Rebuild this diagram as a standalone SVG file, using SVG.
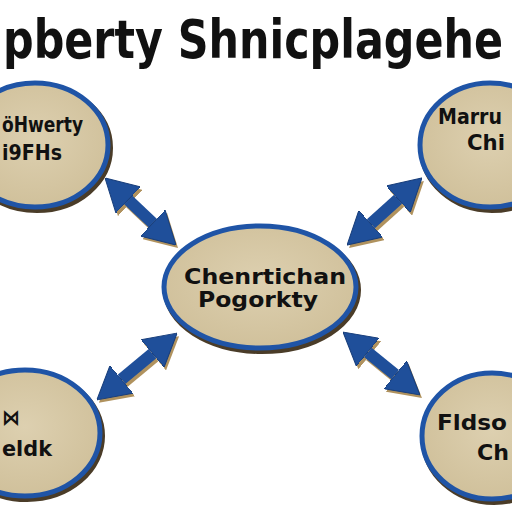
<svg xmlns="http://www.w3.org/2000/svg" width="512" height="512" viewBox="0 0 512 512">
<style>
.title{font-family:"DejaVu Sans","Liberation Sans",sans-serif;font-weight:bold;font-size:54px;fill:#111}
.lbl{font-family:"DejaVu Sans","Liberation Sans",sans-serif;font-weight:bold;font-size:22px;fill:#111}
.shade{fill:none;stroke:#4a3c28;stroke-width:6}
.oval{fill:url(#tan);stroke:#1f54a6;stroke-width:5}
.shaft{stroke:#1f4f9a;stroke-width:12;fill:none}
.shaftsh{stroke:#b0925e;stroke-width:12;fill:none}
</style>
<defs>
<radialGradient id="tan" cx="50%" cy="45%" r="60%">
<stop offset="0" stop-color="#ddd0b0"/>
<stop offset="1" stop-color="#cfbf99"/>
</radialGradient>
<marker id="ah" markerUnits="userSpaceOnUse" viewBox="0 0 32 36" refX="0" refY="18" markerWidth="32" markerHeight="36" orient="auto-start-reverse">
<path d="M0,0 L32,18 L0,36 Z" fill="#1f4f9a" stroke="#173d7a" stroke-width="1"/>
</marker>
<marker id="ahs" markerUnits="userSpaceOnUse" viewBox="0 0 32 36" refX="0" refY="18" markerWidth="32" markerHeight="36" orient="auto-start-reverse">
<path d="M0,0 L32,18 L0,36 Z" fill="#b0925e"/>
</marker>
</defs>
<rect width="512" height="512" fill="#ffffff"/>
<text class="title" x="3" y="58" textLength="500" lengthAdjust="spacingAndGlyphs">pberty Shnicplagehe</text>

<g id="connectors">
<g transform="translate(2,3)">
<line class="shaftsh" x1="128.3" y1="200" x2="152.7" y2="223" marker-start="url(#ahs)" marker-end="url(#ahs)"/>
<line class="shaftsh" x1="398.1" y1="199.3" x2="370.9" y2="223.7" marker-start="url(#ahs)" marker-end="url(#ahs)"/>
<line class="shaftsh" x1="152.5" y1="353.6" x2="121.5" y2="379.4" marker-start="url(#ahs)" marker-end="url(#ahs)"/>
<line class="shaftsh" x1="367.8" y1="352.3" x2="395.2" y2="374.7" marker-start="url(#ahs)" marker-end="url(#ahs)"/>
</g>
<line class="shaft" x1="128.3" y1="200" x2="152.7" y2="223" marker-start="url(#ah)" marker-end="url(#ah)"/>
<line class="shaft" x1="398.1" y1="199.3" x2="370.9" y2="223.7" marker-start="url(#ah)" marker-end="url(#ah)"/>
<line class="shaft" x1="152.5" y1="353.6" x2="121.5" y2="379.4" marker-start="url(#ah)" marker-end="url(#ah)"/>
<line class="shaft" x1="367.8" y1="352.3" x2="395.2" y2="374.7" marker-start="url(#ah)" marker-end="url(#ah)"/>
</g>

<g id="node-tl">
<ellipse class="shade" cx="37" cy="148" rx="73" ry="62"/>
<ellipse class="oval" cx="35" cy="145" rx="73" ry="62"/>
<text class="lbl" x="2" y="132" textLength="81" lengthAdjust="spacingAndGlyphs">öHwerty</text>
<text class="lbl" x="2" y="160" textLength="60" lengthAdjust="spacingAndGlyphs">i9FHs</text>
</g>
<g id="node-tr">
<ellipse class="shade" cx="492" cy="148" rx="70" ry="62"/>
<ellipse class="oval" cx="490" cy="145" rx="70" ry="62"/>
<text class="lbl" x="438" y="124" textLength="64" lengthAdjust="spacingAndGlyphs">Marru</text>
<text class="lbl" x="467" y="150" textLength="38" lengthAdjust="spacingAndGlyphs">Chi</text>
</g>
<g id="node-c">
<ellipse class="shade" cx="262" cy="290" rx="96" ry="61"/>
<ellipse class="oval" cx="260" cy="287" rx="96" ry="61"/>
<text class="lbl" x="184" y="284" textLength="162" lengthAdjust="spacingAndGlyphs">Chenrtichan</text>
<text class="lbl" x="198" y="307" textLength="120" lengthAdjust="spacingAndGlyphs">Pogorkty</text>
</g>
<g id="node-bl">
<ellipse class="shade" cx="27" cy="436" rx="75" ry="63"/>
<ellipse class="oval" cx="25" cy="433" rx="75" ry="63"/>
<text class="lbl" x="2" y="425" textLength="18" lengthAdjust="spacingAndGlyphs">⋈</text>
<text class="lbl" x="2" y="456" textLength="50" lengthAdjust="spacingAndGlyphs">eldk</text>
</g>
<g id="node-br">
<ellipse class="shade" cx="494" cy="439" rx="70" ry="63"/>
<ellipse class="oval" cx="492" cy="436" rx="70" ry="63"/>
<text class="lbl" x="437" y="430" textLength="70" lengthAdjust="spacingAndGlyphs">Fldso</text>
<text class="lbl" x="477" y="460" textLength="32" lengthAdjust="spacingAndGlyphs">Ch</text>
</g>
</svg>
